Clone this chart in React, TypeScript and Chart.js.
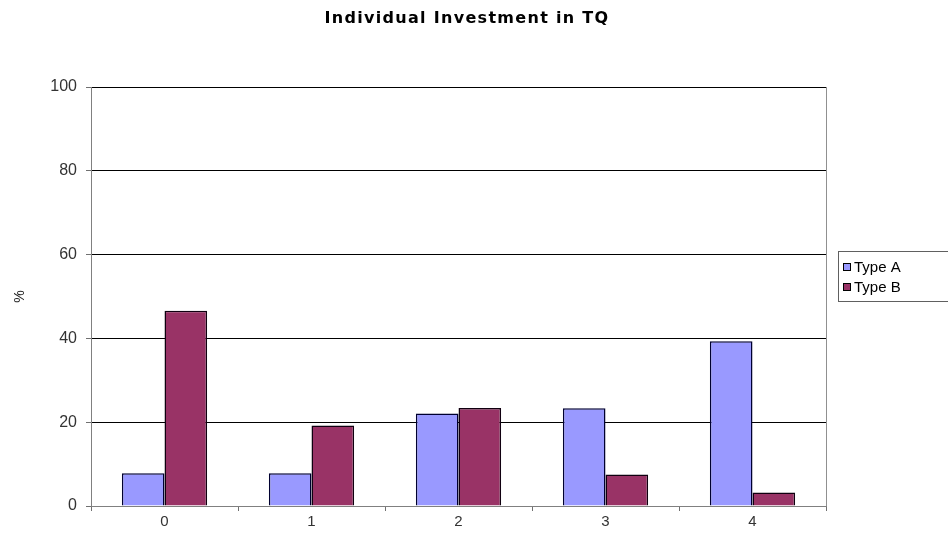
import React, { useEffect, useRef } from "react";
import { Chart, registerables } from "chart.js";

Chart.register(...registerables);

const categories = ["0", "1", "2", "3", "4"];
const typeA = [7.8, 7.8, 22.1, 23.3, 39.3];
const typeB = [46.6, 19.2, 23.4, 7.5, 3.2];
const yTicks = [0, 20, 40, 60, 80, 100];
const titleText = "Individual Investment in TQ";
const yTitle = "%";

const FONT = 'Arial, "Liberation Sans", sans-serif';

export default function App() {
  const ref = useRef<HTMLCanvasElement | null>(null);

  useEffect(() => {
    if (!ref.current) return;
    const extras = {
      id: "extras",
      afterDraw(chart: any) {
        const ctx = chart.ctx;
        const ca = chart.chartArea;
        ctx.save();
        // right border of plot
        ctx.strokeStyle = "#909090";
        ctx.lineWidth = 1;
        ctx.beginPath();
        ctx.moveTo(Math.round(ca.right) + 0.5, ca.top);
        ctx.lineTo(Math.round(ca.right) + 0.5, ca.bottom);
        ctx.stroke();
        // title
        ctx.fillStyle = "#000";
        ctx.font = 'bold 16px "DejaVu Sans", Verdana, sans-serif';
        try {
          (ctx as any).letterSpacing = "1.3px";
        } catch (e) {}
        ctx.textAlign = "center";
        ctx.textBaseline = "middle";
        ctx.fillText(titleText, 467, 19);
        try {
          (ctx as any).letterSpacing = "0px";
        } catch (e) {}
        // legend
        const lx = 838, ly = 251, lw = 110, lh = 50;
        ctx.strokeStyle = "#606060";
        ctx.fillStyle = "#fff";
        ctx.fillRect(lx, ly, lw, lh);
        ctx.strokeRect(lx + 0.5, ly + 0.5, lw, lh);
        ctx.font = "15px " + FONT;
        ctx.textAlign = "left";
        chart.data.datasets.forEach((ds: any, i: number) => {
          const cy = ly + 16 + i * 20;
          ctx.fillStyle = ds.backgroundColor;
          ctx.fillRect(843, cy - 4, 8, 8);
          ctx.strokeStyle = "#000";
          ctx.strokeRect(843.5, cy - 3.5, 7, 7);
          ctx.fillStyle = "#000";
          ctx.fillText(ds.label, 854, cy + 1);
        });
        ctx.restore();
      },
    };

    const chart = new Chart(ref.current, {
      type: "bar",
      data: {
        labels: categories,
        datasets: [
          {
            label: "Type A",
            data: typeA,
            backgroundColor: "#9999FF",
            borderColor: "#000030",
            borderWidth: 1.5,
          },
          {
            label: "Type B",
            data: typeB,
            backgroundColor: "#993366",
            borderColor: "#100010",
            borderWidth: 1.5,
          },
        ],
      },
      options: {
        animation: false,
        responsive: false,
        maintainAspectRatio: false,
        layout: { padding: { top: 87, right: 122, left: 0, bottom: 0 } },
        plugins: {
          legend: { display: false },
          title: { display: false },
          tooltip: { enabled: false },
        },
        datasets: {
          bar: { categoryPercentage: 0.58, barPercentage: 1 },
        },
        scales: {
          x: {
            afterFit: (s: any) => {
              s.height = 42;
            },
            grid: {
              offset: true,
              drawOnChartArea: false,
              tickLength: 5,
              tickColor: "#707070",
            },
            border: { color: "#808080" },
            ticks: {
              color: "#333",
              font: { family: FONT, size: 15 },
              padding: 2,
            },
          },
          y: {
            min: 0,
            max: 100,
            afterFit: (s: any) => {
              s.width = 91;
            },
            afterBuildTicks: (s: any) => {
              s.ticks = yTicks.map((v) => ({ value: v }));
            },
            grid: {
              color: "#000",
              lineWidth: 1,
              tickLength: 5,
              tickColor: "#707070",
            },
            border: { color: "#808080" },
            ticks: {
              color: "#333",
              font: { family: FONT, size: 16 },
              padding: 9,
            },
            title: {
              display: true,
              text: yTitle,
              color: "#222",
              font: { family: FONT, size: 14 },
              padding: { top: 12, bottom: 0 },
            },
          },
        },
      },
      plugins: [extras],
    });
    return () => chart.destroy();
  }, []);

  return (
    <div style={{ position: "fixed", left: 0, top: 0, width: 948, height: 548, background: "#fff" }}>
      <canvas ref={ref} width={948} height={548} style={{ width: 948, height: 548 }} />
    </div>
  );
}
